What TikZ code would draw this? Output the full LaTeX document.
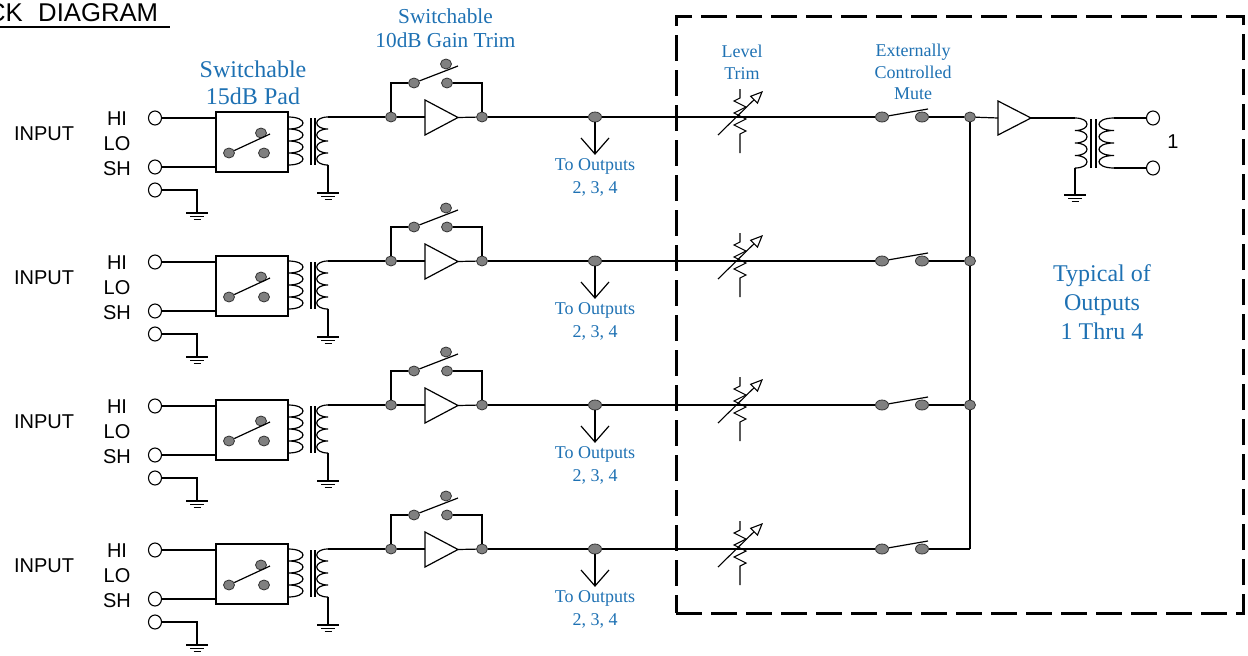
\documentclass[tikz,border=0pt]{standalone}
\usepackage{fontspec}
\setmainfont{Liberation Serif}
\newfontfamily\arialf{Liberation Sans}
\usetikzlibrary{shapes.geometric,arrows.meta}
\definecolor{lblue}{RGB}{30,113,179}
\definecolor{dotgray}{RGB}{128,128,128}
\tikzset{
 wire/.style={line width=1.2pt, line join=miter},
 jdot/.style={ellipse, draw=black!80, fill=dotgray, line width=0.8pt, minimum width=11pt, minimum height=10pt, inner sep=0pt},
 sdot/.style={jdot, minimum width=13pt},
 term/.style={ellipse, draw, line width=1.1pt, fill=white, minimum width=13pt, minimum height=14pt, inner sep=0pt},
 blbl/.style={text=lblue, anchor=base, inner sep=0pt},
 bigl/.style={blbl, font=\fontsize{24}{28}\selectfont},
 midl/.style={blbl, font=\fontsize{21.3}{24}\selectfont},
 smal/.style={blbl, font=\fontsize{18}{22}\selectfont},
 sans/.style={font=\arialf\fontsize{20}{24}\selectfont, inner sep=0pt, anchor=base},
 gnd/.pic={\draw[wire] (-11,0)--(11,0) (-7,3.3)--(7,3.3) (-3.5,6.6)--(3.5,6.6);},
 regionbox/.style={draw, line width=3pt, dash pattern=on 26pt off 9pt, minimum width=567pt, minimum height=597pt, inner sep=0pt}
}
\begin{document}
\begin{tikzpicture}[x=1pt,y=-1pt]
\useasboundingbox (0,0) rectangle (1248,656);
\clip (0,0) rectangle (1248,656);
% title
\node[anchor=base east, inner sep=0pt, font=\arialf\fontsize{25.7}{30}\selectfont] (titA) at (23,21.7) {CK};
\node[anchor=base west, inner sep=0pt, font=\arialf\fontsize{25.7}{30}\selectfont] (titB) at (38,21.7) {DIAGRAM};
\draw[line width=1.5pt] (0,27) -- (170,27);
% dashed region
\node[regionbox] (region) at (959.5,314.5) {};
% rows
\foreach \r in {1,2,3,4} {
 \pgfmathsetmacro\yy{144*(\r-1)}
 \begin{scope}[shift={(0,\yy)}]
  \node[sans] (in\r) at (44,140) {INPUT};
  \node[sans] (hil\r) at (117,125) {HI};
  \node[sans] (lol\r) at (117,150) {LO};
  \node[sans] (shl\r) at (117,175) {SH};
  \node[term] (thi\r) at (155,118) {};
  \node[term] (tsh\r) at (155,167) {};
  \node[term] (tgd\r) at (155,190) {};
  \node[draw, line width=1.2pt, minimum width=72pt, minimum height=60pt, inner sep=0pt] (pad\r) at (252,142) {};
  \draw[wire] (thi\r.east) -- (thi\r.east -| pad\r.west);
  \draw[wire] (tsh\r.east) -- (tsh\r.east -| pad\r.west);
  \coordinate (gi\r) at (197,213);
  \draw[wire] (tgd\r.east) -| (gi\r);
  \pic at (gi\r) {gnd};
  % pad switch
  \node[jdot] (pa\r) at (229,153) {};
  \node[jdot] (pb\r) at (264,153) {};
  \node[jdot] (pc\r) at (261,133) {};
  \draw[wire] (pa\r) -- (270,134);
  % input transformer
  \draw[wire] (288,117) foreach \k in {0,1,2,3} { .. controls (308,{117+12*\k}) and (308,{129+12*\k}) .. (288,{129+12*\k}) };
  \draw[wire] (311,118) -- (311,165) (315,118) -- (315,165);
  \coordinate (sec\r) at (328,117);
  \coordinate (sb\r) at (328,165);
  \coordinate (gs\r) at (328,193);
  \draw[wire] (sec\r) foreach \k in {0,1,2,3} { .. controls (313,{117+12*\k}) and (313,{129+12*\k}) .. (328,{129+12*\k}) };
  \draw[wire] (sb\r) -- (gs\r);
  \pic at (gs\r) {gnd};
  % gain trim
  \node[jdot] (gl\r) at (391,117) {};
  \node[jdot] (gr\r) at (482,117) {};
  \coordinate (ain\r) at (425,117);
  \coordinate (aout\r) at (458,117.5);
  \draw[wire] (425,100) -- (425,135) -- (aout\r) -- cycle;
  \draw[wire] (sec\r) -- (gl\r);
  \draw[wire] (gl\r) -- (ain\r);
  \draw[wire] (aout\r) -- (gr\r);
  \node[jdot] (ba\r) at (414,83) {};
  \node[jdot] (bb\r) at (447,83) {};
  \node[jdot] (bc\r) at (446,64) {};
  \draw[wire] (gl\r.north) |- (ba\r.west);
  \draw[wire] (bb\r.east) -| (gr\r.north);
  \draw[wire] (ba\r) -- (458,66);
  % split to other outputs
  \node[sdot] (sd\r) at (595,117) {};
  \draw[wire] (gr\r) -- (sd\r);
  \coordinate (ah\r) at (595,154);
  \draw[wire] (sd\r) -- (ah\r);
  \draw[wire] (581,138) -- (ah\r) -- (609,138);
  \node[smal] (toa\r) at (595,170) {To Outputs};
  \node[smal] (tob\r) at (595,193) {2, 3, 4};
  % level trim
  \draw[wire, line width=1.1pt] (740,89) -- (740,98) -- (734,101) -- (746,107) -- (734,113) -- (746,119) -- (734,125) -- (746,131) -- (740,134) -- (740,153);
  \draw[wire, line width=1.1pt, -{Triangle[open, length=13pt, width=11pt]}] (718,135) -- (763,91);
  % mute
  \node[sdot] (ma\r) at (882,117) {};
  \node[sdot] (mb\r) at (922,117) {};
  \draw[wire] (sd\r) -- (ma\r);
  \draw[wire] (ma\r) -- (928,109);
 \end{scope}
}
% bus
\node[jdot] (bus1) at (970,117) {};
\node[jdot] (bus2) at (970,261) {};
\node[jdot] (bus3) at (970,405) {};
\coordinate (bus4) at (970,549);
\foreach \r in {1,2,3,4} { \draw[wire] (mb\r) -- (bus\r); }
\draw[wire] (bus1) -- (bus2);
\draw[wire] (bus2) -- (bus3);
\draw[wire] (bus3) -- (bus4);
% output stage (row 1)
\coordinate (oin) at (998,118);
\coordinate (oout) at (1031,118);
\draw[wire] (998,101) -- (998,135) -- (oout) -- cycle;
\draw[wire] (bus1) -- (oin);
\coordinate (op1) at (1075,118);
\coordinate (op2) at (1075,168);
\coordinate (osa) at (1114,118);
\coordinate (osb) at (1114,168);
\coordinate (og) at (1075,195);
\draw[wire] (oout) -- (op1);
\draw[wire] (op1) foreach \k in {0,1,2,3} { .. controls (1091,{118+12.5*\k}) and (1091,{130.5+12.5*\k}) .. (1075,{130.5+12.5*\k}) };
\draw[wire] (1091,119) -- (1091,168) (1096,119) -- (1096,168);
\draw[wire] (osa) foreach \k in {0,1,2,3} { .. controls (1094,{118+12.5*\k}) and (1094,{130.5+12.5*\k}) .. (1114,{130.5+12.5*\k}) };
\node[term] (o1) at (1153,118) {};
\node[term] (o2) at (1153,168) {};
\draw[wire] (osa) -- (o1);
\draw[wire] (osb) -- (o2);
\draw[wire] (op2) -- (og);
\pic at (og) {gnd};
\node[sans] (one) at (1173,148) {1};
% row-1 labels
\node[bigl] (padA) at (253,77) {Switchable};
\node[bigl] (padB) at (253,104) {15dB Pad};
\node[midl] (gtA) at (445.5,23) {Switchable};
\node[midl] (gtB) at (445.5,47) {10dB Gain Trim};
\node[smal] (ltA) at (742,57) {Level};
\node[smal] (ltB) at (742,79) {Trim};
\node[smal] (muA) at (913,56.5) {Externally};
\node[smal] (muB) at (913,78) {Controlled};
\node[smal] (muC) at (913,99.5) {Mute};
\node[bigl] (tyA) at (1102,281) {Typical of};
\node[bigl] (tyB) at (1102,310) {Outputs};
\node[bigl] (tyC) at (1102,339) {1 Thru 4};
\end{tikzpicture}
\end{document}
